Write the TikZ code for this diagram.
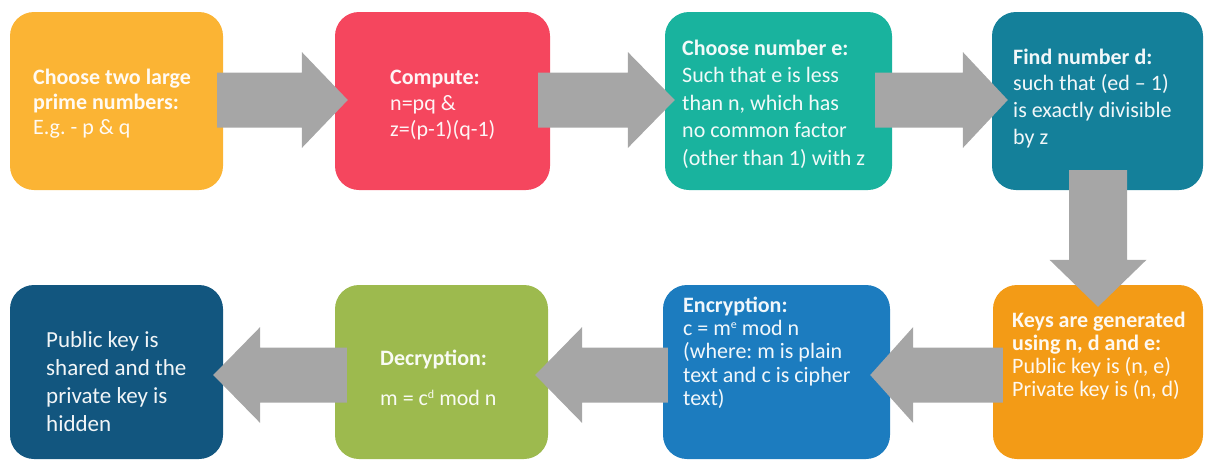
\documentclass[tikz,border=0pt]{standalone}
\usepackage{fontspec}
\setmainfont{Carlito}
\usetikzlibrary{calc}
\definecolor{cA}{HTML}{FBB434}
\definecolor{cB}{HTML}{F5465E}
\definecolor{cC}{HTML}{19B39E}
\definecolor{cD}{HTML}{14809A}
\definecolor{cE}{HTML}{F39B16}
\definecolor{cF}{HTML}{1C7CBF}
\definecolor{cG}{HTML}{9DBA4E}
\definecolor{cH}{HTML}{12567F}
\definecolor{arrgray}{HTML}{A6A6A6}
\newcommand{\fst}{\rule{0pt}{16pt}}
\newcommand{\sux}[1]{\raisebox{7pt}{\fontsize{12}{12}\selectfont #1}}
\setlength{\lineskiplimit}{-30pt}
\frenchspacing
\newcommand\harrow[3]{%
  \fill[arr] let \p1=#1, \p2=#2, \p3=#3 in
    (\x1,\y3+27.5pt) -- (\x2,\y3+27.5pt) -- (\x2,\y3+48pt) -- (\x3,\y3)
    -- (\x2,\y3-48pt) -- (\x2,\y3-27.5pt) -- (\x1,\y3-27.5pt) -- cycle;}
\begin{document}
\begin{tikzpicture}[x=1pt,y=-1pt,
  box/.style={rounded corners=24pt, inner sep=0pt, minimum height=178pt, fill=#1},
  txt/.style={anchor=north west, inner sep=0pt, align=left, text=white!94!#1},
  arr/.style={fill=arrgray}]
\useasboundingbox (0,0) rectangle (1206,461);
% boxes
\node[box=cA, minimum width=213pt] (b1) at (116.5,101) {};
\node[box=cB, minimum width=215pt] (b2) at (442.5,101) {};
\node[box=cC, minimum width=227pt] (b3) at (778.5,101) {};
\node[box=cD, minimum width=211pt] (b4) at (1097.5,101) {};
\node[box=cE, minimum width=210pt, minimum height=174pt] (b5) at (1098,372) {};
\node[box=cF, minimum width=227pt, minimum height=174pt] (b6) at (776.5,372) {};
\node[box=cG, minimum width=213pt, minimum height=174pt] (b7) at (441.5,372) {};
\node[box=cH, minimum width=213pt, minimum height=174pt] (b8) at (116.5,372) {};
% arrows
\harrow{($(b1.east)+(-6,0)$)}{($(b2.west)+(-33,0)$)}{($(b2.west)+(13,-1)$)}
\harrow{($(b2.east)+(-12,0)$)}{($(b3.west)+(-37,0)$)}{($(b3.west)+(10,-1)$)}
\harrow{($(b3.east)+(-17,0)$)}{($(b4.west)+(-29,0)$)}{($(b4.west)+(16,-1)$)}
\fill[arr] let \p1=($(b4.south)+(0,-20)$), \p2=($(b5.north)+(0,-25)$), \p3=($(b5.north)+(0,22)$) in
  (\x3-29pt,\y1) -- (\x3-29pt,\y2) -- (\x3-48.5pt,\y2) -- (\x3,\y3)
  -- (\x3+48.5pt,\y2) -- (\x3+29pt,\y2) -- (\x3+29pt,\y1) -- cycle;
\harrow{($(b5.west)+(10,0)$)}{($(b6.east)+(23,0)$)}{($(b6.east)+(-20,3)$)}
\harrow{($(b6.west)+(5,0)$)}{($(b7.east)+(34,0)$)}{($(b7.east)+(-13,3)$)}
\harrow{($(b7.west)+(12,0)$)}{($(b8.east)+(37,0)$)}{($(b8.east)+(-10,3)$)}
% texts
\node[txt=cA, font=\fontsize{22}{25}\selectfont] (t1) at (33,68)
  {\fst\textbf{Choose two large}\\\textbf{prime numbers:}\\E.g. - p \& q};
\node[txt=cB, font=\fontsize{22}{26}\selectfont] (t2) at (390,68)
  {\fst\textbf{Compute:}\\n=pq \&\\z=(p-1)(q-1)};
\node[txt=cC, font=\fontsize{22}{27.5}\selectfont] (t3) at (682,39)
  {\fst\textbf{Choose number e:}\\Such that e is less\\than n, which has\\no common factor\\(other than 1) with z};
\node[txt=cD, font=\fontsize{22}{26.7}\selectfont] (t4) at (1013,48)
  {\fst\textbf{Find number d:}\\such that (ed -- 1)\\is exactly divisible\\by z};
\node[txt=cE, font=\fontsize{22}{23}\selectfont] (t5) at (1012,311)
  {\fst\textbf{Keys are generated}\\\textbf{using n, d and e:}\\Public key is (n, e)\\Private key is (n, d)};
\node[txt=cF, font=\fontsize{22}{23.3}\selectfont] (t6) at (683,296)
  {\fst\textbf{Encryption:}\\c = m\sux{e} mod n\\(where: m is plain\\text and c is cipher\\text)};
\node[txt=cG, font=\fontsize{22}{40}\selectfont] (t7) at (380,349)
  {\fst\textbf{Decryption:}\\m = c\sux{d} mod n};
\node[txt=cH, font=\fontsize{23}{28}\selectfont] (t8) at (46,331)
  {\fst Public key is\\shared and the\\private key is\\hidden};
\end{tikzpicture}
\end{document}
